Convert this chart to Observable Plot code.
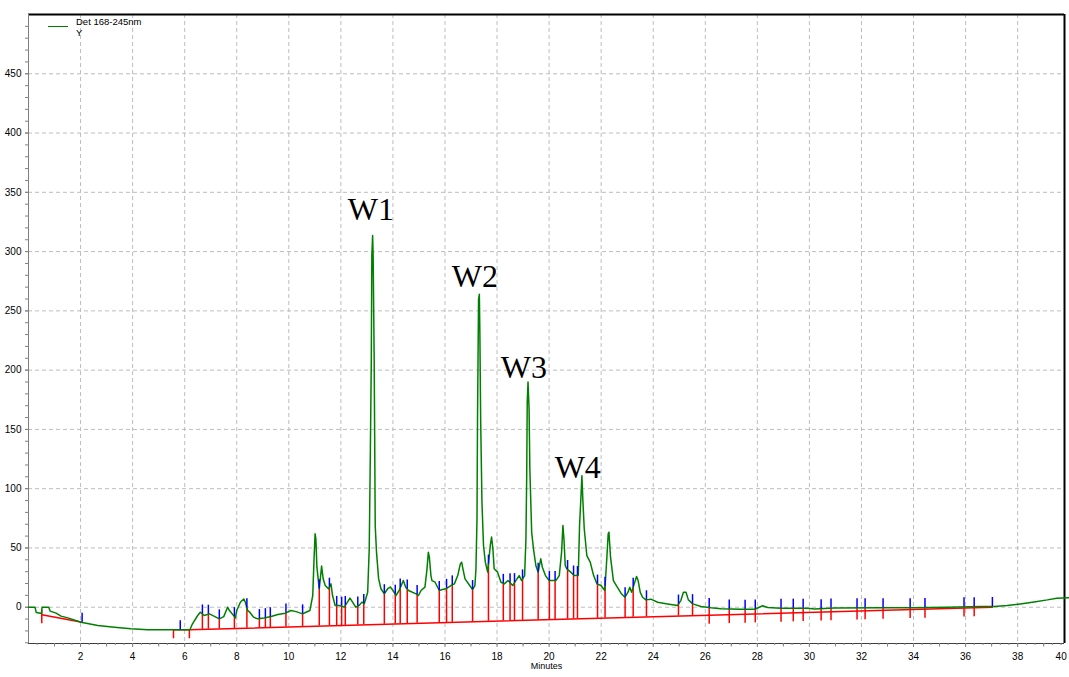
<!DOCTYPE html>
<html>
<head>
<meta charset="utf-8">
<script src="https://cdn.jsdelivr.net/npm/d3@7"></script>
<script src="https://cdn.jsdelivr.net/npm/@observablehq/plot@0.6"></script>
<style>
  html, body { margin: 0; padding: 0; background: #fff; }
  #wrap { position: relative; width: 1069px; height: 677px; overflow: hidden; }
  #legend { position: absolute; left: 48px; top: 16px; font: 9.5px "Liberation Sans", Arial, sans-serif; color: #000; }
  #legend .sw { position: absolute; left: 0; top: 10px; width: 20px; height: 0; border-top: 1.5px solid #008000; }
  #legend .tx { position: absolute; left: 28px; top: 0; line-height: 11px; white-space: nowrap; }
</style>
</head>
<body>
<div id="wrap">
  <div id="chart"></div>
  <div id="legend"><div class="sw"></div><div class="tx">Det 168-245nm<br>Y</div></div>
</div>
<script>
// ---- chromatogram trace (minutes, signal) ----
const times = [0,0.25,0.3,0.5,0.52,0.78,0.83,1.06,1.25,1.51,2.02,2.66,3.3,3.94,4.58,6.2,6.3,6.5,6.6,6.75,6.95,7.2,7.33,7.5,7.65,7.72,7.95,8.0,8.14,8.27,8.33,8.42,8.5,8.65,8.8,9.05,9.32,9.58,9.87,10.08,10.28,10.53,10.66,10.81,10.92,10.97,11.01,11.04,11.08,11.17,11.26,11.32,11.4,11.53,11.62,11.68,11.78,11.94,12.13,12.35,12.45,12.57,12.7,12.81,12.9,13.03,13.09,13.13,13.17,13.19,13.22,13.24,13.28,13.32,13.37,13.45,13.54,13.67,13.8,13.9,14.0,14.12,14.24,14.4,14.49,14.6,14.89,14.98,15.08,15.23,15.31,15.36,15.4,15.46,15.5,15.62,15.78,15.9,16.03,16.23,16.36,16.49,16.59,16.64,16.69,16.77,16.95,17.06,17.15,17.19,17.23,17.25,17.29,17.32,17.34,17.37,17.42,17.48,17.55,17.64,17.74,17.79,17.84,17.89,18.02,18.15,18.28,18.42,18.6,18.72,18.85,18.94,19.06,19.11,19.14,19.16,19.19,19.23,19.26,19.33,19.4,19.49,19.58,19.68,19.74,19.86,20.0,20.26,20.39,20.48,20.53,20.57,20.62,20.68,20.83,20.96,21.12,21.17,21.22,21.26,21.3,21.35,21.45,21.58,21.71,21.84,21.99,22.14,22.22,22.27,22.3,22.36,22.47,22.62,22.78,22.91,23.03,23.1,23.17,23.27,23.36,23.42,23.5,23.59,23.72,23.91,24.17,24.55,24.93,25.06,25.16,25.26,25.35,25.52,25.83,26.22,26.6,27.36,27.9,28.1,28.2,28.4,28.9,29.93,30.2,30.95,32.75,34.0,35.3,36.58,37.1,37.6,38.1,38.63,39.14,39.5,39.96];
const signal = [0,0,-4.5,-5.2,0,0,-3.3,-5.0,-7.5,-9.0,-12.6,-15.4,-16.8,-18.2,-19.0,-19.0,-14,-7.0,-4.2,-7.0,-5.6,-8.4,-9.8,-7.9,0,-2.8,-9.0,-2.8,4.2,7.0,4.2,-2.8,-4.2,-8.4,-9.8,-9.0,-7.9,-6.2,-5.0,-2.8,-3.7,-5.6,-4.2,-2.8,9.9,40.8,61.9,57.6,33.8,15.5,34.7,24,18.3,15.5,19.7,9.9,1.5,1.5,0.1,7.7,4.3,0,1.5,4.3,2.9,12.7,49.3,125,209.5,296.7,313.6,296.7,209.5,68.8,46.3,24.1,15.6,11.4,15.6,17,14.2,9.9,14.2,22.5,16.9,14.1,11.3,9.9,14.1,16.9,32.4,46.4,42.2,26.7,22.5,21.1,14.1,14.9,15.5,18.3,19.7,26.7,36.6,38,32.4,23.9,18.3,14.9,18.3,32.4,74.6,158.9,260,264,232,158.9,88.7,52.1,38,29.6,52.1,59.2,49.3,32.4,29.6,21.1,19.7,22.5,18.3,22.5,26.7,22.5,26.7,57.7,111,173,190,167.4,116.8,63.4,49.3,35.2,29.6,40.8,33.8,26.7,22.5,22.5,26.7,46.5,69,57.7,35.2,32.4,29.6,26.7,26.7,69,91.5,111,88.7,66.2,43.6,38,26.7,19.7,18.3,14.1,42.2,61.9,63.3,42.2,22.5,16.9,11.3,8.4,12.7,16.9,12.7,19.7,25.9,22.5,12.7,8.4,6.2,6.8,4.2,2.8,1.4,5.6,12.7,12.7,6.2,2.8,0.6,-0.5,-1.3,-1.7,-1.7,0.2,1.2,-0.2,-0.8,-0.8,-1.5,-0.6,-0.5,-0.5,0,0.6,0.6,1.4,2.8,4.5,6.2,7.6,7.9];

// ---- integration baseline (red) ----
const baseTimes  = [0.51, 2.06, 5.57, 6.18, 37.03];
const baseValues = [-6.4, -12.6, -19.0, -19.0, 0.0];
const baseGroups = [1, 1, 2, 2, 2];

// ---- integration events: A = drop to baseline + blue mark, B = drop through baseline + blue mark,
//      C = red drop through baseline only, D = blue mark only
const eventTimes = [0.51,2.06,5.57,5.83,6.18,6.68,6.91,7.33,7.91,8.39,8.87,9.1,9.29,9.89,10.53,11.17,11.56,11.84,12.03,12.17,12.65,12.88,13.67,14.09,14.28,14.55,14.93,15.78,16.06,16.28,17.06,17.67,18.24,18.5,18.67,18.98,19.58,20.01,20.23,20.71,20.94,21.09,21.86,22.15,22.92,23.23,23.74,24.97,25.51,26.15,26.92,27.53,27.92,28.91,29.38,29.76,30.45,30.83,31.83,32.14,32.83,33.87,34.44,35.94,36.33,37.03];
const eventKinds = ["C","D","C","D","C","A","A","A","A","A","A","A","A","A","A","A","A","A","A","A","A","A","A","A","A","A","A","A","A","A","A","A","A","A","A","A","A","A","A","A","A","A","A","A","A","A","A","A","A","B","B","B","B","B","B","B","B","B","B","B","B","B","B","B","B","D"];

// ---- peak annotations ----
const peakNames  = ["W1", "W2", "W3", "W4"];
const peakLabelT = [13.15, 17.15, 19.03, 21.1];
const peakLabelV = [335.5, 279, 202, 117.5];

// ---- axis ticks ----
const xTickLabels = [2,4,6,8,10,12,14,16,18,20,22,24,26,28,30,32,34,36,38,40];
const yTickLabels = [0,50,100,150,200,250,300,350,400,450];

const xDomain = [0, 39.8];
const yDomain = [-30.6, 500];
const markLen = 7.6; // signal units

const trace = times.map((t, i) => ({t, v: signal[i]}));
const base = baseTimes.map((t, i) => ({t, v: baseValues[i], g: baseGroups[i]}));

function interp(ts, vs, t) {
  const i = d3.bisectRight(ts, t);
  if (i <= 0) return vs[0];
  if (i >= ts.length) return vs[vs.length - 1];
  const t0 = ts[i - 1], t1 = ts[i];
  return vs[i - 1] + (vs[i] - vs[i - 1]) * (t - t0) / (t1 - t0);
}
function curveAt(t) { return interp(times, signal, t); }
function baseAt(t) {
  if (t <= baseTimes[1]) return interp(baseTimes.slice(0, 2), baseValues.slice(0, 2), t);
  return interp(baseTimes.slice(2), baseValues.slice(2), t);
}

const events = eventTimes.map((t, i) => ({t, kind: eventKinds[i], top: curveAt(t), base: baseAt(t)}));
const drops = events.filter(e => e.kind === "A" || e.kind === "B" || e.kind === "C")
  .map(e => ({t: e.t, y1: e.top, y2: e.kind === "A" ? e.base : e.base - markLen}));
const blues = events.filter(e => e.kind !== "C").map(e => ({t: e.t, y1: e.top, y2: e.top + markLen}));
const labels = peakNames.map((n, i) => ({n, t: peakLabelT[i], v: peakLabelV[i]}));

const xMinor = d3.range(0, 120).map(k => k / 3).filter(t => t > 0.01);
const xOdd = d3.range(1, 40, 2);
const yMinor = d3.range(-30, 500, 10);
const xInside = xTickLabels.filter(t => t < xDomain[1]);
const xEdge = xTickLabels.filter(t => t >= xDomain[1]);

const chart = Plot.plot({
  width: 1069,
  height: 677,
  marginLeft: 28,
  marginRight: 5,
  marginTop: 14,
  marginBottom: 34,
  x: {domain: xDomain},
  y: {domain: yDomain},
  style: {fontFamily: "'Liberation Sans', Arial, sans-serif", fontSize: "10px", background: "white", color: "black"},
  marks: [
    Plot.gridX(xInside, {stroke: "#bdbdbd", strokeOpacity: 1, strokeDasharray: "4,3"}),
    Plot.gridY(yTickLabels, {stroke: "#bdbdbd", strokeOpacity: 1, strokeDasharray: "4,3"}),
    Plot.ruleY([yDomain[1]], {stroke: "black", strokeWidth: 2}),
    Plot.ruleX([xDomain[1]], {stroke: "black", strokeWidth: 2}),
    Plot.ruleX([xDomain[0]], {stroke: "#808080"}),
    Plot.ruleY([yDomain[0]], {stroke: "#404040"}),
    Plot.axisX(xMinor, {tickSize: 2, stroke: "#808080", tickFormat: () => "", label: null}),
    Plot.axisX(xOdd, {tickSize: 3.5, stroke: "#808080", tickFormat: () => "", label: null}),
    Plot.axisX(xInside, {tickSize: 4, tickPadding: 5, stroke: "#808080", fill: "black", tickFormat: d => String(d), label: null}),
    Plot.axisX(xEdge, {tickSize: 0, tickPadding: 9, fill: "black", textAnchor: "end", dx: -3, tickFormat: d => String(d), label: null}),
    Plot.axisY(yMinor, {tickSize: 3, stroke: "#808080", tickFormat: () => "", label: null}),
    Plot.axisY(yTickLabels, {tickSize: 3, tickPadding: 4, stroke: "#808080", fill: "black", tickFormat: d => String(d), label: null}),
    Plot.line(base, {x: "t", y: "v", z: "g", stroke: "#ff0000", strokeWidth: 1.5}),
    Plot.ruleX(drops, {x: "t", y1: "y1", y2: "y2", stroke: "#ff0000", strokeWidth: 1.5}),
    Plot.line(trace, {x: "t", y: "v", stroke: "#008000", strokeWidth: 1.5}),
    Plot.ruleX(blues, {x: "t", y1: "y1", y2: "y2", stroke: "#0000ff", strokeWidth: 1.5}),
    Plot.text(labels, {x: "t", y: "v", text: "n", fontSize: 32, fontFamily: "'Liberation Serif', 'DejaVu Serif', serif", fill: "black"}),
    Plot.text(["Minutes"], {frameAnchor: "bottom", dy: 25, fontSize: 9, fill: "black"})
  ]
});
document.getElementById("chart").appendChild(chart);
</script>
</body>
</html>
